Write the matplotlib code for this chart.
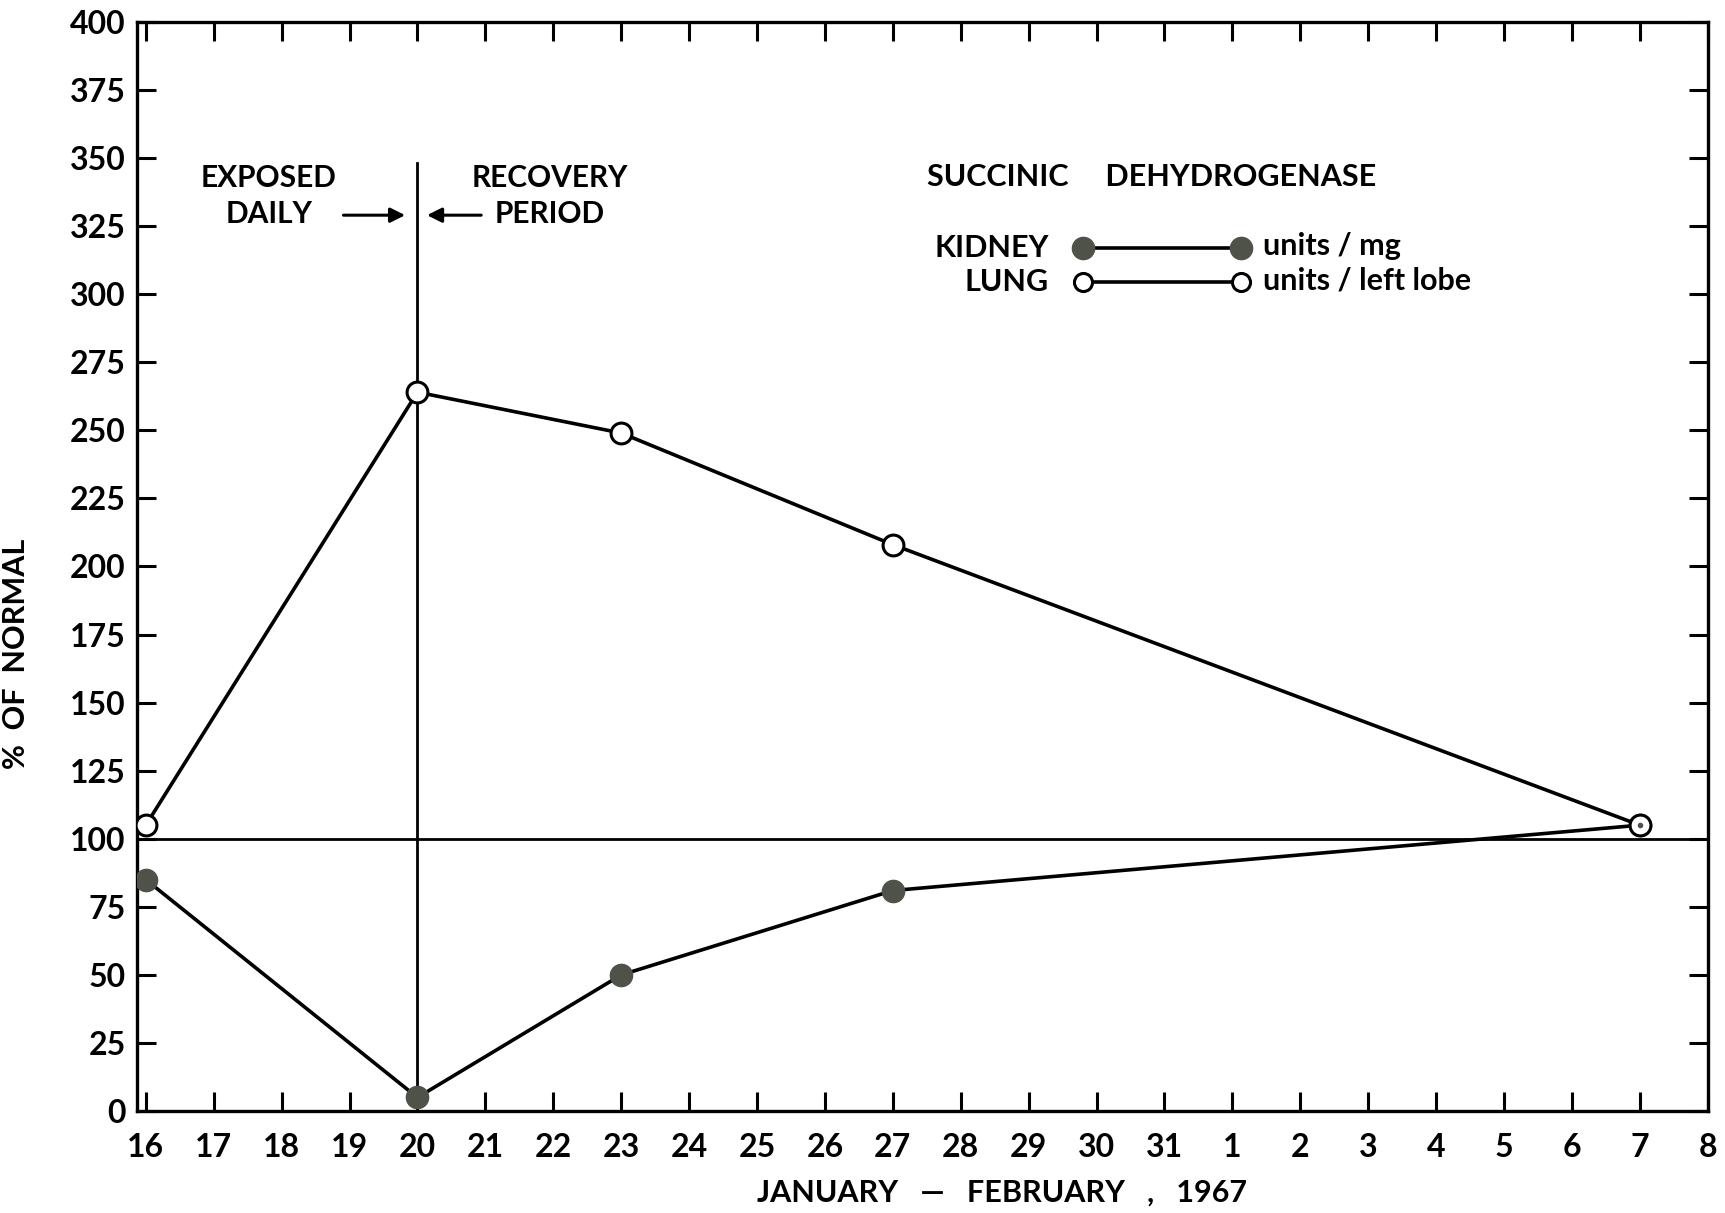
import matplotlib
matplotlib.use('Agg')
import matplotlib.pyplot as plt

# day labels along the x axis (January 16 ... February 8)
day_labels = ['16', '17', '18', '19', '20', '21', '22', '23', '24', '25', '26', '27',
              '28', '29', '30', '31', '1', '2', '3', '4', '5', '6', '7', '8']
# sample days, as index into day_labels
sample_days = [0, 4, 7, 11, 22]
lung = [105, 264, 249, 208, 105]
kidney = [85, 5, 50, 81, 105]
y_ticks = [0, 25, 50, 75, 100, 125, 150, 175, 200, 225, 250, 275, 300, 325, 350, 375, 400]

plt.rcParams['font.family'] = ['Lato', 'DejaVu Sans']
plt.rcParams['font.weight'] = 'bold'
plt.rcParams['axes.labelweight'] = 'bold'
kid_col = '#4f5248'
fs = 21.5

fig = plt.figure(figsize=(17.25, 12.13), dpi=100)
ax = fig.add_axes([0.0794, 0.084, 0.9106, 0.898])

# normal level and end of exposure
ax.axhline(100, color='black', lw=2, zorder=1)
ax.plot([4, 4], [0, 348], color='black', lw=2, zorder=1)

ax.plot(sample_days, kidney, color='black', lw=2.6, marker='o', ms=16,
        mfc=kid_col, mec=kid_col, zorder=3)
ax.plot(sample_days, lung, color='black', lw=2.6, marker='o', ms=15,
        mfc='white', mec='black', mew=2.2, zorder=4)
ax.plot([sample_days[-1]], [lung[-1]], marker='o', ms=3, mfc=kid_col, mec=kid_col, zorder=5)

ax.set_xlim(-0.13, 23)
ax.set_ylim(0, 400)
ax.set_xticks(range(len(day_labels)))
ax.set_xticklabels(day_labels)
ax.set_yticks(y_ticks)
ax.tick_params(direction='in', length=14, width=2.2, labelsize=23, top=True, right=True)
ax.tick_params(axis='x', pad=16)
ax.tick_params(axis='y', pad=8)
for s in ax.spines.values():
    s.set_linewidth(2.4)

ax.set_ylabel('%  OF  NORMAL', fontsize=22)
ax.yaxis.set_label_coords(-0.068, 0.42)
ax.set_xlabel('JANUARY   —   FEBRUARY   ,   1967', fontsize=22)
ax.xaxis.set_label_coords(0.551, -0.062)

# annotations
ax.text(1.81, 336, 'EXPOSED\nDAILY', ha='center', va='center', fontsize=fs, linespacing=1.35)
ax.text(5.95, 336, 'RECOVERY\nPERIOD', ha='center', va='center', fontsize=fs, linespacing=1.35)
ax.annotate('', xy=(3.86, 329), xytext=(2.87, 329),
            arrowprops=dict(arrowstyle='-|>', color='black', lw=2.2, mutation_scale=22))
ax.annotate('', xy=(4.1, 329), xytext=(4.98, 329),
            arrowprops=dict(arrowstyle='-|>', color='black', lw=2.2, mutation_scale=22))

# legend drawn by hand
ax.text(11.5, 343, 'SUCCINIC     DEHYDROGENASE', ha='left', va='center', fontsize=fs + 0.5)
ax.text(13.3, 317, 'KIDNEY', ha='right', va='center', fontsize=fs + 0.5)
ax.text(13.3, 304.5, 'LUNG', ha='right', va='center', fontsize=fs + 0.5)
ax.plot([13.8, 16.12], [317, 317], color='black', lw=2.6, marker='o', ms=16,
        mfc=kid_col, mec=kid_col)
ax.plot([13.8, 16.12], [304.5, 304.5], color='black', lw=2.6, marker='o', ms=13,
        mfc='white', mec='black', mew=2.2)
ax.text(16.45, 317.5, 'units / mg', ha='left', va='center', fontsize=fs + 0.5)
ax.text(16.45, 305, 'units / left lobe', ha='left', va='center', fontsize=fs + 0.5)

fig.savefig('out.png', dpi=100)
